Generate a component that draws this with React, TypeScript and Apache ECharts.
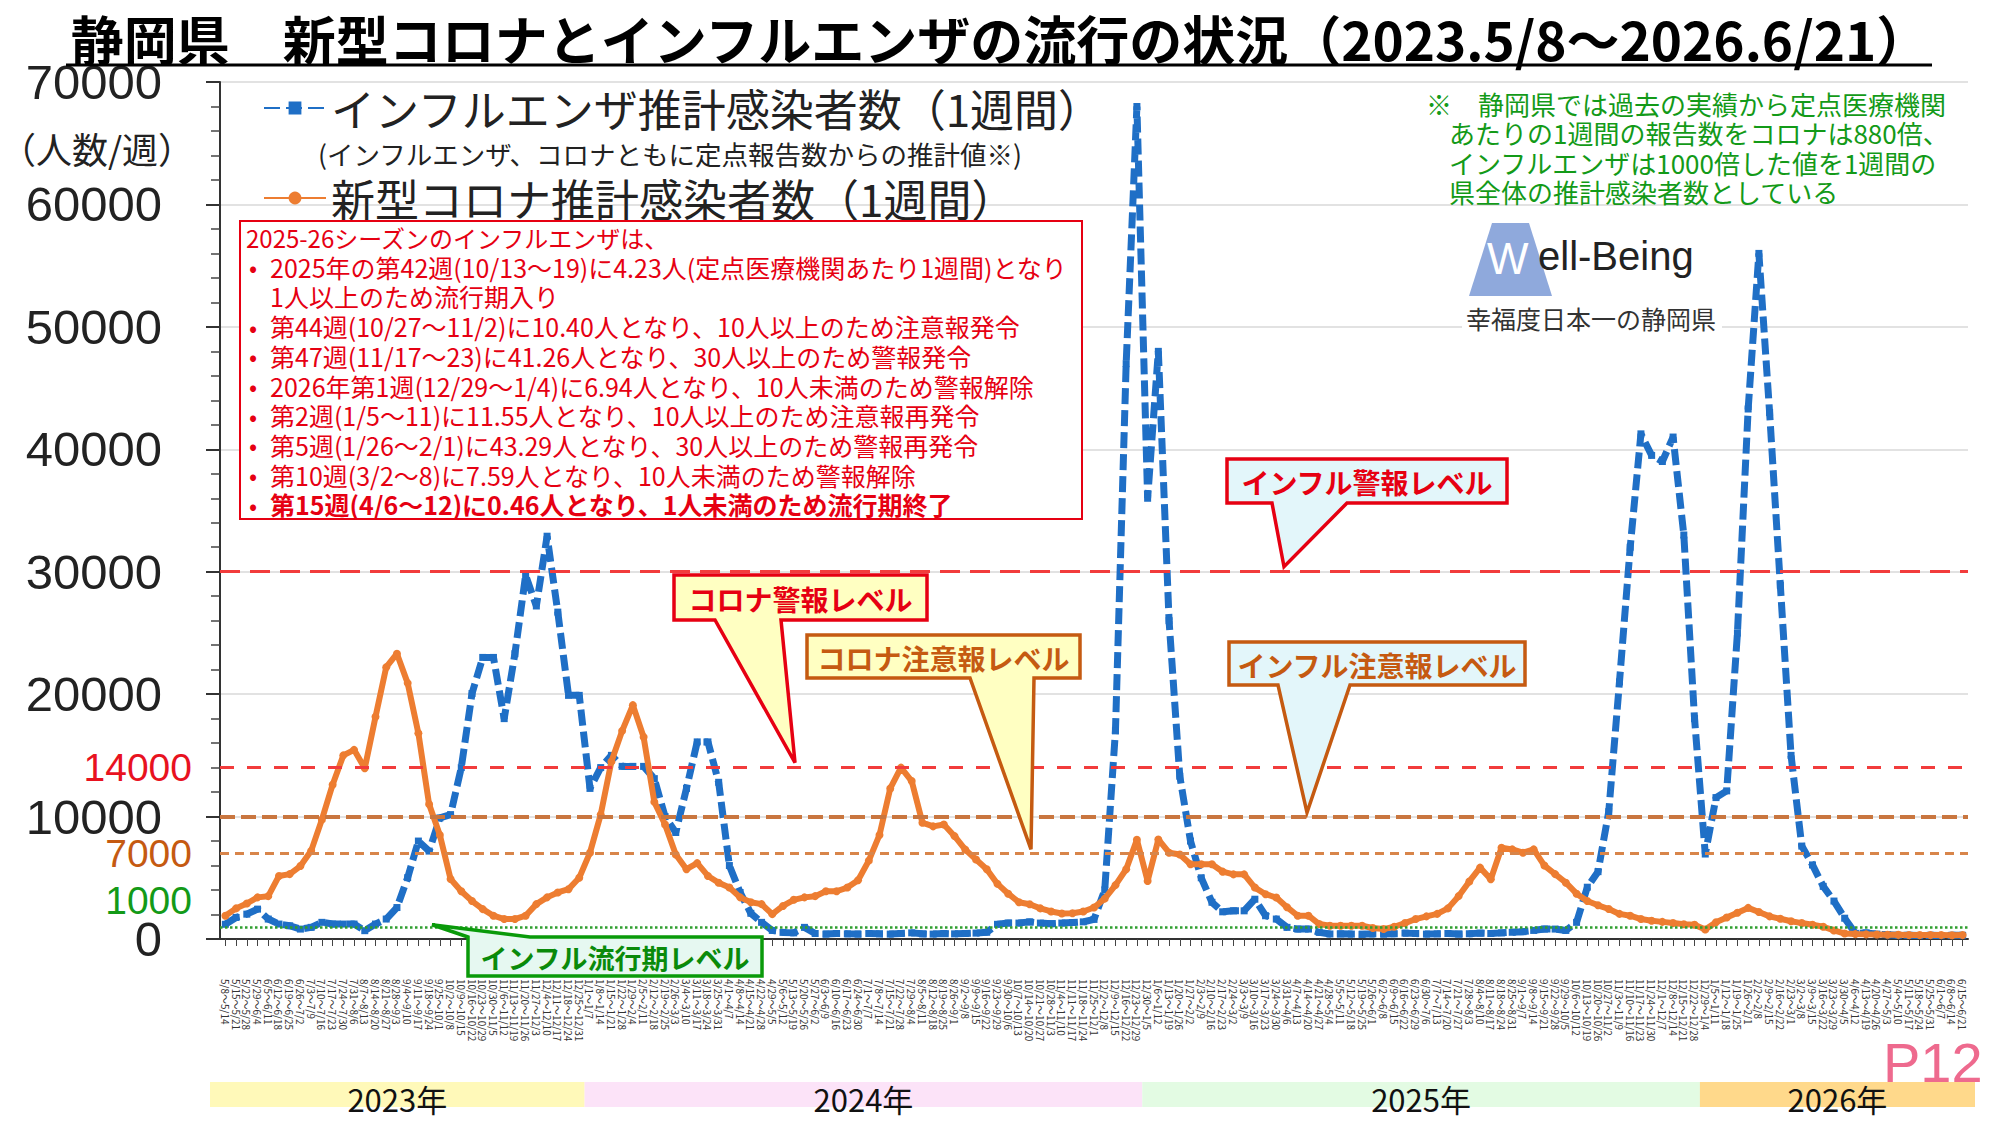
import React, { useEffect, useRef } from "react";
import * as echarts from "echarts";

// ---------- data ----------
const WEEK_START = [
  "5/8","5/15","5/22","5/29","6/5","6/12","6/19","6/26","7/3","7/10","7/17","7/24","7/31","8/7","8/14","8/21","8/28","9/4","9/11","9/18","9/25","10/2","10/9","10/16","10/23","10/30","11/6","11/13","11/20","11/27","12/4","12/11","12/18","12/25",
  "1/1","1/8","1/15","1/22","1/29","2/5","2/12","2/19","2/26","3/4","3/11","3/18","3/25","4/1","4/8","4/15","4/22","4/29","5/6","5/13","5/20","5/27","6/3","6/10","6/17","6/24","7/1","7/8","7/15","7/22","7/29","8/5","8/12","8/19","8/26","9/2","9/9","9/16","9/23","9/30","10/7","10/14","10/21","10/28","11/4","11/11","11/18","11/25","12/2","12/9","12/16","12/23",
  "12/30","1/6","1/13","1/20","1/27","2/3","2/10","2/17","2/24","3/3","3/10","3/17","3/24","3/31","4/7","4/14","4/21","4/28","5/5","5/12","5/19","5/26","6/2","6/9","6/16","6/23","6/30","7/7","7/14","7/21","7/28","8/4","8/11","8/18","8/25","9/1","9/8","9/15","9/22","9/29","10/6","10/13","10/20","10/27","11/3","11/10","11/17","11/24","12/1","12/8","12/15","12/22",
  "12/29","1/5","1/12","1/19","1/26","2/2","2/9","2/16","2/23","3/2","3/9","3/16","3/23","3/30","4/6","4/13","4/20","4/27","5/4","5/11","5/18","5/25","6/1","6/8","6/15",
];

const FLU_NAME = "インフルエンザ推計感染者数（1週間）";
const COVID_NAME = "新型コロナ推計感染者数（1週間）";

const FLU = [
  1200,1760,2030,2440,1630,1220,1080,810,950,1360,
  1220,1220,1220,680,1220,1630,2570,5010,8000,7180,
  9890,10160,14000,20050,23000,23000,18000,23300,29700,27200,
  32900,26700,19900,19900,12300,14000,15000,14100,14100,14100,
  13100,10000,8700,12300,16100,16100,12800,6000,3800,2100,
  1360,700,540,500,950,450,400,450,420,400,
  450,420,400,450,500,420,400,450,420,450,
  480,550,1200,1300,1300,1400,1300,1250,1300,1350,
  1400,1600,4000,17000,47000,68000,36000,48000,26000,13300,
  8000,5000,3000,2220,2300,2300,3250,1900,1630,950,
  810,810,540,410,420,400,380,420,400,430,
  480,450,400,420,450,400,430,480,450,500,
  550,600,700,810,810,700,1360,4230,5500,10400,
  21000,32000,41260,39500,39000,41000,33000,18000,6940,11550,
  12100,25000,43290,56000,43000,28900,15000,7590,6050,4300,
  3100,1700,460,500,400,350,300,300,280,300,
  280,300,300,
];

const COVID = [
  1900,2500,2900,3400,3500,5150,5300,5960,7200,9750,
  12600,15000,15450,13950,18150,22200,23300,20900,16800,11000,
  8500,4900,3900,3100,2440,1900,1630,1630,1900,2850,
  3400,3800,4070,5000,7050,10160,14500,17000,19100,16500,
  11200,9350,6900,5700,6200,5150,4600,4200,3400,3000,
  2850,2030,2700,3200,3400,3500,3900,3900,4200,4800,
  6400,8500,12300,14000,12900,9500,9200,9350,8400,7300,
  6500,5700,4500,3700,3000,2840,2500,2250,2080,2100,
  2250,2570,3300,4400,5700,8100,4740,8130,7050,6900,
  6100,6100,6100,5500,5280,5280,4200,3660,3390,2600,
  1900,1900,1220,1080,1080,1080,1080,900,810,1000,
  1300,1630,1850,2050,2500,3500,4700,5830,4880,7450,
  7320,7050,7320,6000,5300,4600,3700,3100,2750,2450,
  2050,1900,1630,1490,1400,1300,1200,1170,780,1370,
  1750,2150,2540,2200,1850,1650,1450,1300,1170,1000,
  700,450,400,380,370,350,340,330,320,330,
  320,310,320,
];

const LEVEL_FLU_ALERT = 30000;
const LEVEL_COVID_ALERT = 14000;
const LEVEL_FLU_WARN = 10000;
const LEVEL_COVID_WARN = 7000;
const LEVEL_FLU_EPI = 1000;

const Y_MAX = 70000;
const Y_INTERVAL = 10000;

const YEAR_BANDS = [
  { label: "2023年", from: 0, to: 33, color: "#FFF9B9" },
  { label: "2024年", from: 34, to: 85, color: "#FCE3F8" },
  { label: "2025年", from: 86, to: 137, color: "#E3FBE3" },
  { label: "2026年", from: 138, to: 162, color: "#FFD98B" },
];

const BOX_TITLE = "2025-26シーズンのインフルエンザは、";
const BOX_LINES: { text: string; bullet: boolean; bold?: boolean }[] = [
  { text: "2025年の第42週(10/13～19)に4.23人(定点医療機関あたり1週間)となり", bullet: true },
  { text: "1人以上のため流行期入り", bullet: false },
  { text: "第44週(10/27～11/2)に10.40人となり、10人以上のため注意報発令", bullet: true },
  { text: "第47週(11/17～23)に41.26人となり、30人以上のため警報発令", bullet: true },
  { text: "2026年第1週(12/29～1/4)に6.94人となり、10人未満のため警報解除", bullet: true },
  { text: "第2週(1/5～11)に11.55人となり、10人以上のため注意報再発令", bullet: true },
  { text: "第5週(1/26～2/1)に43.29人となり、30人以上のため警報再発令", bullet: true },
  { text: "第10週(3/2～8)に7.59人となり、10人未満のため警報解除", bullet: true },
  { text: "第15週(4/6～12)に0.46人となり、1人未満のため流行期終了", bullet: true, bold: true },
];

const NOTE_LINES = [
  "※　静岡県では過去の実績から定点医療機関",
  "あたりの1週間の報告数をコロナは880倍、",
  "インフルエンザは1000倍した値を1週間の",
  "県全体の推計感染者数としている",
];

// ---------- layout ----------
const GRID = { left: 220, top: 82, width: 1748, height: 857 };
const STEP = GRID.width / WEEK_START.length;
const yPix = (v: number) => GRID.top + GRID.height * (1 - v / Y_MAX);
const JP = '"Noto Sans CJK JP", sans-serif';
const RED = "#E60012";
const BROWN = "#C55A11";
const GREEN = "#139A18";

function txt(text: string, x: number, y: number, font: string, fill: string, align = "left", z = 50, lineHeight?: number) {
  const m = font.match(/([\d.]+)px/);
  const size = m ? parseFloat(m[1]) : 20;
  return {
    type: "text",
    z,
    style: {
      text, x, y, font, fill,
      lineHeight: lineHeight ?? Math.round(size * 1.05),
      textAlign: align, align,
      textVerticalAlign: "middle", verticalAlign: "middle",
    },
  };
}

function callout(
  text: string,
  box: number[],
  base: number[],
  tip: number[],
  fill: string,
  stroke: string,
  color: string
) {
  const [x1, y1, x2, y2] = box;
  return [
    {
      type: "polygon",
      z: 60,
      shape: {
        points: [[x1, y1], [x2, y1], [x2, y2], [base[1], y2], tip, [base[0], y2], [x1, y2]],
      },
      style: { fill, stroke, lineWidth: 3.5 },
    },
    txt(text, (x1 + x2) / 2, (y1 + y2) / 2 + 1, `bold 28px ${JP}`, color, "center", 61),
  ];
}

function buildOption() {
  const graphics: any[] = [];

  // title underline
  graphics.push({ type: "line", z: 50, shape: { x1: 66, y1: 65, x2: 1932, y2: 65 }, style: { stroke: "#000", lineWidth: 3 } });
  // unit label
  graphics.push(txt("（人数/週）", 0, 148, `36px ${JP}`, "#222", "left"));
  // legend note
  graphics.push(txt("(インフルエンザ、コロナともに定点報告数からの推計値※)", 318, 153, `26.5px ${JP}`, "#222", "left", 50, 26));

  // red info box
  graphics.push({ type: "rect", z: 40, shape: { x: 240, y: 221, width: 842, height: 298 }, style: { fill: "#fff", stroke: RED, lineWidth: 2 } });
  graphics.push(txt(BOX_TITLE, 246, 237, `24px ${JP}`, RED, "left", 41));
  BOX_LINES.forEach((l, k) => {
    const y = 266.7 + k * 29.7;
    if (l.bullet) graphics.push(txt("•", 249, y, `24px ${JP}`, RED, "left", 41));
    graphics.push(txt(l.text, 270, y, `${l.bold ? "bold " : ""}25px ${JP}`, RED, "left", 41));
  });

  // green note
  NOTE_LINES.forEach((t, k) => {
    graphics.push(txt(t, k === 0 ? 1426 : 1449, 103.3 + k * 29.4, `26px ${JP}`, GREEN, "left", 50, 26));
  });

  // Well-Being logo
  graphics.push({ type: "polygon", z: 45, shape: { points: [[1492, 223], [1529, 223], [1552, 296], [1469, 296]] }, style: { fill: "#8FA9DC" } });
  graphics.push(txt("W", 1487, 258, `44px "Liberation Sans", sans-serif`, "#fff", "left", 46));
  graphics.push(txt("ell-Being", 1538, 256, `40px "Liberation Sans", sans-serif`, "#222", "left", 46));
  graphics.push({ type: "rect", z: 44, shape: { x: 1462, y: 304, width: 260, height: 30 }, style: { fill: "#fff" } });
  graphics.push(txt("幸福度日本一の静岡県", 1466, 318, `25px ${JP}`, "#333", "left", 46));

  // callouts
  graphics.push(...callout("インフル警報レベル", [1227, 459, 1507, 503], [1272, 1347], [1284, yPix(LEVEL_FLU_ALERT) - 5], "#E3F6FA", RED, RED));
  graphics.push(...callout("コロナ警報レベル", [674, 575, 927, 620], [715, 781], [795, yPix(LEVEL_COVID_ALERT) - 5], "#FFFFC2", RED, RED));
  graphics.push(...callout("コロナ注意報レベル", [807, 635, 1080, 678], [970, 1034], [1031, yPix(LEVEL_COVID_WARN) - 4], "#FFFFC2", BROWN, BROWN));
  graphics.push(...callout("インフル注意報レベル", [1229, 642, 1525, 685], [1278, 1350], [1307, yPix(LEVEL_FLU_WARN) - 4], "#E3F6FA", BROWN, BROWN));
  // epidemic level callout (pointer from top-left corner)
  graphics.push({
    type: "polygon",
    z: 60,
    shape: { points: [[468, 937], [432, yPix(LEVEL_FLU_EPI) - 2], [530, 937], [762, 937], [762, 976], [468, 976]] },
    style: { fill: "#E6F8F1", stroke: "#0A9A0A", lineWidth: 3.5 },
  });
  graphics.push(txt("インフル流行期レベル", 615, 957, `bold 27px ${JP}`, "#0A8A0A", "center", 61));

  // year bands
  YEAR_BANDS.forEach((b, k) => {
    const x1 = k === 0 ? 210 : GRID.left + b.from * STEP;
    const x2 = k === YEAR_BANDS.length - 1 ? 1975 : GRID.left + (b.to + 1) * STEP;
    graphics.push({ type: "rect", z: 20, shape: { x: x1, y: 1082, width: x2 - x1, height: 25 }, style: { fill: b.color } });
    graphics.push(txt(b.label, (x1 + x2) / 2, 1098, `31px ${JP}`, "#111", "center", 21));
  });

  // page number
  graphics.push(txt("P12", 1883, 1062, `56px "Liberation Sans", sans-serif`, "#EE6A8E", "left", 70));

  const levelLabel = (color: string, extra: any = {}) => ({
    show: true,
    position: "start",
    distance: 28,
    formatter: "{c}",
    color,
    fontSize: 39,
    lineHeight: 36,
    fontFamily: "Liberation Sans",
    ...extra,
  });

  return {
    animation: false,
    backgroundColor: "#ffffff",
    title: {
      text: "静岡県　新型コロナとインフルエンザの流行の状況（2023.5/8～2026.6/21）",
      left: "center",
      top: 6,
      textStyle: { fontSize: 53, lineHeight: 54, fontWeight: "bold", fontFamily: "Noto Sans CJK JP", color: "#000" },
    },
    legend: {
      data: [FLU_NAME, COVID_NAME],
      orient: "vertical",
      left: 258,
      top: 81,
      itemWidth: 62,
      itemHeight: 16,
      itemGap: 46,
      textStyle: { fontSize: 44, lineHeight: 40, fontFamily: "Noto Sans CJK JP", color: "#222" },
    },
    grid: { left: GRID.left, top: GRID.top, width: GRID.width, height: GRID.height, containLabel: false },
    xAxis: {
      type: "category",
      data: WEEK_START,
      boundaryGap: true,
      axisLine: { lineStyle: { color: "#333", width: 2 } },
      axisTick: { show: true, alignWithLabel: true, interval: 0, length: 7, lineStyle: { color: "#444" } },
      axisLabel: {
        interval: 0,
        rotate: -90,
        fontSize: 10,
        lineHeight: 10,
        color: "#333",
        margin: 40,
        fontFamily: "Noto Sans CJK JP",
        formatter: (v: string, i: number) => {
          const d = new Date(2023, 4, 8 + 7 * i + 6);
          return `${v}～${d.getMonth() + 1}/${d.getDate()}`;
        },
      },
      splitLine: { show: false },
    },
    yAxis: {
      type: "value",
      min: 0,
      max: Y_MAX,
      interval: Y_INTERVAL,
      axisLine: { show: true, lineStyle: { color: "#333", width: 2 } },
      axisTick: { show: true, length: 14, lineStyle: { color: "#333", width: 2 } },
      minorTick: { show: true, splitNumber: 5, length: 9, lineStyle: { color: "#444", width: 1.5 } },
      splitLine: { lineStyle: { color: "#D9D9D9", width: 1.5 } },
      axisLabel: {
        fontSize: 49,
        lineHeight: 38,
        fontFamily: "Liberation Sans",
        color: "#222",
        margin: 58,
        formatter: (v: number) => String(v),
      },
    },
    graphic: { elements: graphics },
    series: [
      {
        name: FLU_NAME,
        type: "line",
        data: FLU,
        z: 3,
        symbol: "rect",
        symbolSize: 7,
        showSymbol: true,
        lineStyle: { color: "#1F6FC6", width: 7, type: [16, 6] },
        itemStyle: { color: "#1F6FC6" },
        markLine: {
          silent: true,
          symbol: ["none", "none"],
          label: { show: false },
          data: [
            { yAxis: LEVEL_FLU_ALERT, lineStyle: { color: "#F23C3C", type: [20, 10], width: 3 } },
            { yAxis: LEVEL_COVID_ALERT, lineStyle: { color: "#F23C3C", type: [14, 13], width: 3 }, label: levelLabel("#E8121F", { padding: [0, 0, 14, 0] }) },
            { yAxis: LEVEL_FLU_WARN, lineStyle: { color: "#C9763F", type: [15, 6], width: 4 } },
            { yAxis: LEVEL_COVID_WARN, lineStyle: { color: "#D8854A", type: [9, 6], width: 3 }, label: levelLabel(BROWN) },
            { yAxis: LEVEL_FLU_EPI, lineStyle: { color: "#2E9E2E", type: "dotted", width: 2.5 }, label: levelLabel(GREEN, { verticalAlign: "bottom", padding: [0, 0, 8, 0] }) },
          ],
        },
      },
      {
        name: COVID_NAME,
        type: "line",
        data: COVID,
        z: 4,
        symbol: "circle",
        symbolSize: 8,
        showSymbol: true,
        lineStyle: { color: "#ED7D31", width: 6 },
        itemStyle: { color: "#ED7D31" },
      },
    ],
  };
}

export default function App() {
  const ref = useRef<HTMLDivElement>(null);
  useEffect(() => {
    document.body.style.margin = "0";
    const chart = echarts.init(ref.current as HTMLDivElement, null, { renderer: "svg" });
    chart.setOption(buildOption() as any);
    return () => chart.dispose();
  }, []);
  return <div ref={ref} style={{ width: 2000, height: 1125 }} />;
}
